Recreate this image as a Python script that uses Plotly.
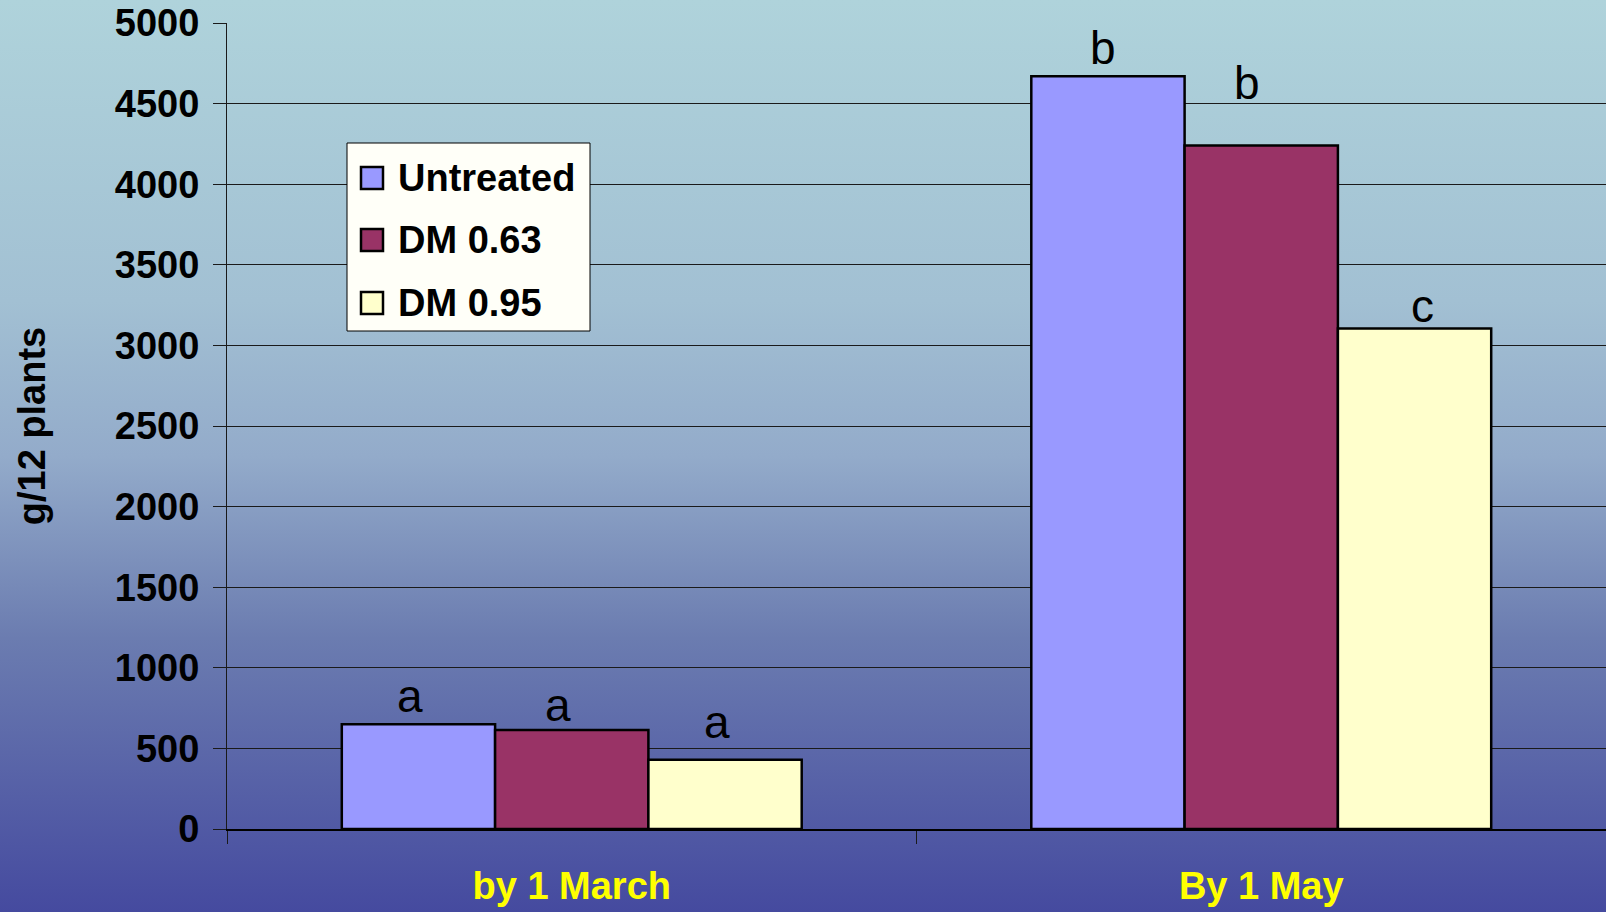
import base64
import plotly.graph_objects as go

# ---------------- data ----------------
categories = ["by 1 March", "By 1 May"]
series_names = ["Untreated", "DM 0.63", "DM 0.95"]
untreated = [650, 4670]
dm_063 = [614, 4240]
dm_095 = [430, 3105]
sig_untreated = ["a", "b"]
sig_dm_063 = ["a", "b"]
sig_dm_095 = ["a", "c"]
y_ticks = [0, 500, 1000, 1500, 2000, 2500, 3000, 3500, 4000, 4500, 5000]

values = [untreated, dm_063, dm_095]
letters = [sig_untreated, sig_dm_063, sig_dm_095]

# ---------------- style ----------------
colors = ["#9999FF", "#993366", "#FFFFCC"]
W, H = 1606, 912
L, R, T, B = 227, 0, 23, 83
BARGAP = 0.333
# per-label pixel nudges (style only)
label_dy = [[28, 28], [25, 63], [38, 22]]
label_dx = [[-8, -5], [-14, -14], [-8, 8]]

pw = W - L - R
ph = H - T - B


def px2x(px):
    return (px - L) / pw


def px2y(py):
    return (H - B - py) / ph


fig = go.Figure()
for i, name in enumerate(series_names):
    fig.add_trace(go.Bar(
        name=name, x=categories, y=values[i],
        marker=dict(color=colors[i], line=dict(color="black", width=2.5)),
        showlegend=False,
    ))

# significance letters
w = (1 - BARGAP) / len(series_names)
for i in range(len(series_names)):
    for j in range(len(categories)):
        fig.add_annotation(
            x=j + (i - 1) * w, y=values[i][j], xref="x", yref="y",
            text=letters[i][j], showarrow=False,
            yanchor="middle", xanchor="center",
            yshift=label_dy[i][j], xshift=label_dx[i][j],
            font=dict(family="Liberation Sans, Arial", size=46, color="black"),
        )

# manual legend
shapes = []
lx0, lx1, ly0, ly1 = 347, 590, 143, 331
shapes.append(dict(type="rect", xref="paper", yref="paper",
                   x0=px2x(lx0), x1=px2x(lx1), y0=px2y(ly1), y1=px2y(ly0),
                   fillcolor="#FFFFF8", line=dict(color="black", width=1), layer="above"))
row_y = [178, 240, 303]
for i, name in enumerate(series_names):
    cy = row_y[i]
    shapes.append(dict(type="rect", xref="paper", yref="paper",
                       x0=px2x(361), x1=px2x(383), y0=px2y(cy + 11), y1=px2y(cy - 11),
                       fillcolor=colors[i], line=dict(color="black", width=2.5), layer="above"))
    fig.add_annotation(x=px2x(396), y=px2y(cy), xref="paper", yref="paper",
                       text=name, showarrow=False, xanchor="left", yanchor="middle",
                       font=dict(family="Liberation Sans, Arial", size=38, color="black",
                                 weight="bold"))

# gradient background as SVG image
svg = (
    '<svg xmlns="http://www.w3.org/2000/svg" width="100" height="100" preserveAspectRatio="none">'
    '<defs><linearGradient id="g" x1="0" y1="0" x2="0" y2="1">'
    '<stop offset="0" stop-color="#AFD3DB"/>'
    '<stop offset="0.33" stop-color="#A2C0D3"/>'
    '<stop offset="0.5" stop-color="#93ABCA"/>'
    '<stop offset="0.7" stop-color="#6B7CB0"/>'
    '<stop offset="1" stop-color="#454A9F"/>'
    '</linearGradient></defs><rect width="100" height="100" fill="url(#g)"/></svg>'
)
uri = "data:image/svg+xml;base64," + base64.b64encode(svg.encode()).decode()
fig.add_layout_image(dict(
    source=uri, xref="paper", yref="paper",
    x=px2x(0), y=px2y(0), sizex=W / pw, sizey=H / ph,
    xanchor="left", yanchor="top", sizing="stretch", layer="below",
))

fig.update_layout(
    width=W, height=H,
    margin=dict(l=L, r=R, t=T, b=B, autoexpand=False),
    paper_bgcolor="#8AA2C4", plot_bgcolor="rgba(0,0,0,0)",
    barmode="group", bargap=BARGAP, bargroupgap=0,
    shapes=shapes,
    showlegend=False,
    xaxis=dict(
        type="category", range=[-0.5, 1.5], tickson="boundaries",
        ticks="outside", ticklen=13, tickcolor="#1a1a1a", tickwidth=1,
        showline=True, linecolor="black", linewidth=1.5, showgrid=False,
        tickfont=dict(family="Liberation Sans, Arial", size=38, color="#FFFF00", weight="bold"),
        ticklabelstandoff=23, automargin=False,
    ),
    yaxis=dict(
        range=[0, 5000], tickvals=y_ticks, ticks="outside", ticklen=13,
        tickcolor="#1a1a1a", tickwidth=1,
        showline=True, linecolor="#1a1a1a", linewidth=1,
        showgrid=True, gridcolor="#1a1a1a", gridwidth=1, zeroline=False,
        tickfont=dict(family="Liberation Sans, Arial", size=38, color="black", weight="bold"),
        ticklabelstandoff=6, automargin=False,
        title=dict(text="g/12 plants", standoff=57,
                   font=dict(family="Liberation Sans, Arial", size=38, color="black", weight="bold")),
    ),
)

fig.write_html(
    "out.html",
    config={"displayModeBar": False},
    post_script="document.body.style.margin='0';document.body.style.overflow='hidden';",
)
